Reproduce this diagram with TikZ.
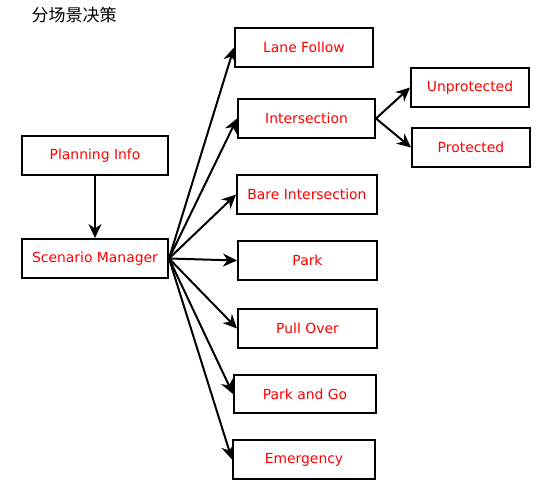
\documentclass[tikz,border=0pt]{standalone}
\usepackage{fontspec}
\setmainfont{DejaVu Sans}
\newfontfamily\cjk{Noto Sans CJK SC}
\usetikzlibrary{arrows.meta}
\begin{document}
\begin{tikzpicture}[x=1pt,y=-1pt,
  box/.style={draw=black,line width=2pt,rectangle,minimum height=39pt,text=red,font=\fontsize{13.9}{16}\selectfont,inner sep=0pt},
  conn/.style={line width=2pt,-{Stealth[length=14pt,width=13pt,inset=4.5pt]}}]
\useasboundingbox (0,0) rectangle (539,485);
\node[font=\cjk\fontsize{17}{19}\selectfont,anchor=west,inner sep=0pt] (title) at (31.5,15) {分场景决策};
\node[box,minimum width=146pt] (pi) at (95,155.5) {Planning Info};
\node[box,minimum width=146pt] (sm) at (95,258.5) {Scenario Manager};
\node[box,minimum width=138pt] (lf) at (304,47.5) {Lane Follow};
\node[box,minimum width=137pt] (is) at (306.5,118.5) {Intersection};
\node[box,minimum width=140pt] (bi) at (307,194.5) {Bare Intersection};
\node[box,minimum width=139pt] (pk) at (307.5,260.5) {Park};
\node[box,minimum width=139pt] (po) at (307.5,328.5) {Pull Over};
\node[box,minimum width=142pt,minimum height=38pt] (pg) at (305,394) {Park and Go};
\node[box,minimum width=142pt] (em) at (304,459.5) {Emergency};
\node[box,minimum width=118pt] (up) at (470,87.5) {Unprotected};
\node[box,minimum width=118pt] (pr) at (471,147.5) {Protected};
\draw[conn] (pi) -- (sm);
\foreach \t in {lf,is,bi,pk,po,pg,em}{\draw[conn] (sm.east) -- (\t.west);}
\draw[conn] (is.east) -- (up.west);
\draw[conn] (is.east) -- (pr.west);
\end{tikzpicture}
\end{document}
